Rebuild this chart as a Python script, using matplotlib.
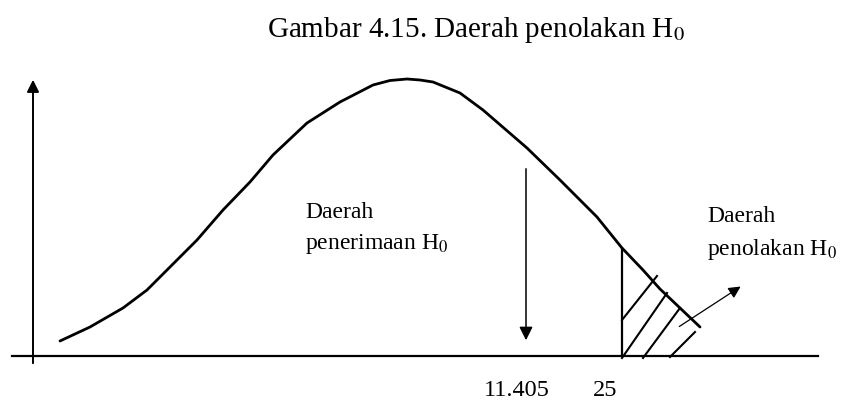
import matplotlib.pyplot as plt

plt.rcParams['font.family'] = ['Liberation Serif', 'DejaVu Serif']
plt.rcParams['mathtext.fontset'] = 'stix'

# bell curve traced by hand (x, height above the baseline)
curve_x = [60, 90, 123, 147, 170, 197, 223, 250, 273, 307, 340, 373, 390, 407,
           420, 433, 460, 483, 527, 560, 597, 622, 643, 660, 680, 700]
curve_y = [15, 29, 48, 66, 89, 116, 146, 174, 201, 233, 254, 271, 275.5, 277,
           276, 274, 263, 246, 208, 176, 139, 108, 86, 67, 48, 29]

# test statistic and critical value
stat_x, stat_label = 526, '11.405'
crit_x, crit_label = 622, '25'
crit_height = 108

# hatch strokes in the rejection region: (x0, y0, x1, y1)
hatch = [(622, 36, 657, 80),
         (622, -2, 667, 63),
         (643, -2, 680, 48),
         (670, -1, 695, 24)]

fig = plt.figure(figsize=(8.56, 4.07), dpi=100)
ax = fig.add_axes([0, 0, 1, 1])
ax.set_xlim(0, 856)
ax.set_ylim(-51, 356)
ax.axis('off')

# axes
ax.plot([12, 818], [0, 0], color='black', lw=1.6)
ax.annotate('', xy=(33, 279), xytext=(33, -10),
            arrowprops=dict(arrowstyle='-|>', color='black', lw=1.4, mutation_scale=18))

# curve
ax.plot(curve_x, curve_y, color='black', lw=2.0, solid_capstyle='round')

# statistic arrow
ax.annotate('', xy=(stat_x, 13), xytext=(stat_x, 190),
            arrowprops=dict(arrowstyle='-|>', color='black', lw=1.1, mutation_scale=20))

# critical boundary + hatching
ax.plot([crit_x, crit_x], [0, crit_height], color='black', lw=1.6)
for x0, y0, x1, y1 in hatch:
    ax.plot([x0, x1], [y0, y1], color='black', lw=1.5)

# pointer to the rejection label
ax.annotate('', xy=(743, 71), xytext=(677, 28),
            arrowprops=dict(arrowstyle='-|>', color='black', lw=0.9, mutation_scale=18))

ax.text(476, 319, 'Gambar 4.15. Daerah penolakan H$_0$', ha='center', va='baseline', fontsize=21)
ax.text(305, 138, 'Daerah', ha='left', va='baseline', fontsize=17)
ax.text(305, 107, 'penerimaan H$_0$', ha='left', va='baseline', fontsize=17)
ax.text(707, 134, 'Daerah', ha='left', va='baseline', fontsize=17)
ax.text(707, 101, 'penolakan H$_0$', ha='left', va='baseline', fontsize=17)
ax.text(517, -40, stat_label, ha='center', va='baseline', fontsize=17.5)
ax.text(605, -40, crit_label, ha='center', va='baseline', fontsize=17.5)

fig.savefig('out.png', dpi=100, facecolor='white')
